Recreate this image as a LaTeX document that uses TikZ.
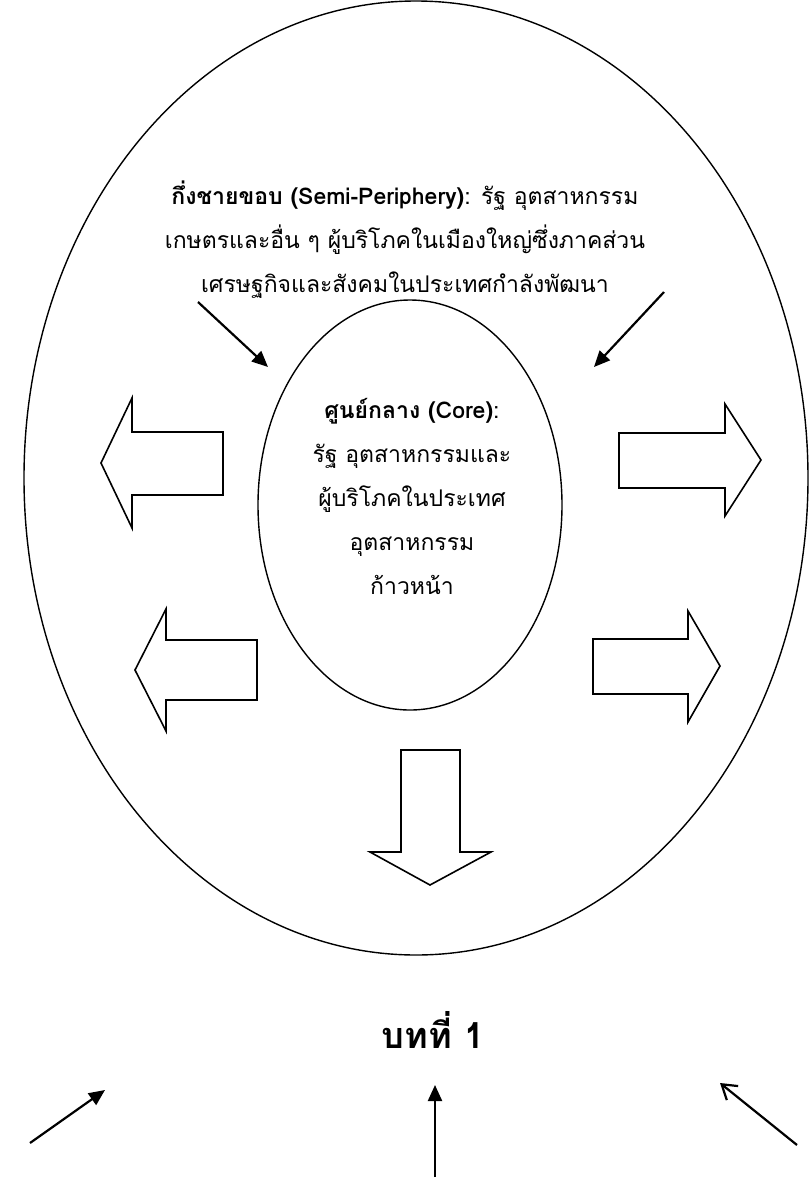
\documentclass[tikz,border=0pt]{standalone}
\usepackage{fontspec}
\setmainfont[Script=Thai]{Loma}
\usepackage{tikz}
\usetikzlibrary{arrows.meta,shapes.geometric,positioning}
\tikzstyle{pointer} = [line width=2.2pt,-{Triangle[length=16pt,width=14pt]}]
\tikzstyle{openpointer} = [line width=2.2pt,-{Straight Barb[length=14pt,width=18pt]}]
\tikzstyle{blockarrow} = [draw, line width=1.6pt, fill=white, line join=miter]
\tikzstyle{zone} = [ellipse, draw, line width=1.4pt, inner sep=0pt, outer sep=0pt]
\tikzstyle{zonetext} = [align=center, font=\fontsize{23}{44}\selectfont]

\begin{document}
\begin{tikzpicture}[x=1pt,y=-1pt]
\useasboundingbox (0,0) rectangle (811,1179);
% Zones
\node[zone, minimum width=784pt, minimum height=954pt] (periphery) at (416,478) {};
\node[zone, minimum width=304pt, minimum height=410pt] (core) at (410,505) {};
% Labels
\node[zonetext] (semitext) at (405,240) {\textbf{กึ่งชายขอบ (Semi-Periphery)}: รัฐ อุตสาหกรรม\\เกษตรและอื่น ๆ ผู้บริโภคในเมืองใหญ่ซึ่งภาคส่วน\\เศรษฐกิจและสังคมในประเทศกำลังพัฒนา};
\node[zonetext] (coretext) at (412,496) {\textbf{ศูนย์กลาง (Core)}:\\รัฐ อุตสาหกรรมและ\\ผู้บริโภคในประเทศ\\อุตสาหกรรม\\ก้าวหน้า};
\node[font=\fontsize{36}{40}\selectfont\bfseries] (chapter) at (433,1030) {บทที่ 1};
% Flows out of the core
\draw[blockarrow] (223,432) -- (132,432) -- (132,398) -- (101,463) -- (132,528) -- (132,495) -- (223,495) -- cycle;
\draw[blockarrow] (619,433) -- (725,433) -- (725,404) -- (761,460) -- (725,516) -- (725,488) -- (619,488) -- cycle;
\draw[blockarrow] (257,640) -- (166,640) -- (166,609) -- (135,670) -- (166,731) -- (166,700) -- (257,700) -- cycle;
\draw[blockarrow] (593,639) -- (688,639) -- (688,611) -- (720,666) -- (688,722) -- (688,694) -- (593,694) -- cycle;
\draw[blockarrow] (401,750) -- (460,750) -- (460,852) -- (491,852) -- (430,885) -- (370,852) -- (401,852) -- cycle;
% Flows into the core
\coordinate (ulstart) at (198,302);
\coordinate (ulend) at (268,367);
\coordinate (urstart) at (664,292);
\coordinate (urend) at (594,367);
\draw[pointer] (ulstart) -- (ulend);
\draw[pointer] (urstart) -- (urend);
% Flows from outside
\coordinate (blstart) at (30,1143);
\coordinate (blend) at (105,1090);
\coordinate (bmstart) at (435,1177);
\coordinate (bmend) at (435,1085);
\coordinate (brstart) at (797,1145);
\coordinate (brend) at (720,1083);
\draw[pointer] (blstart) -- (blend);
\draw[pointer] (bmstart) -- (bmend);
\draw[openpointer] (brstart) -- (brend);
\end{tikzpicture}
\end{document}
